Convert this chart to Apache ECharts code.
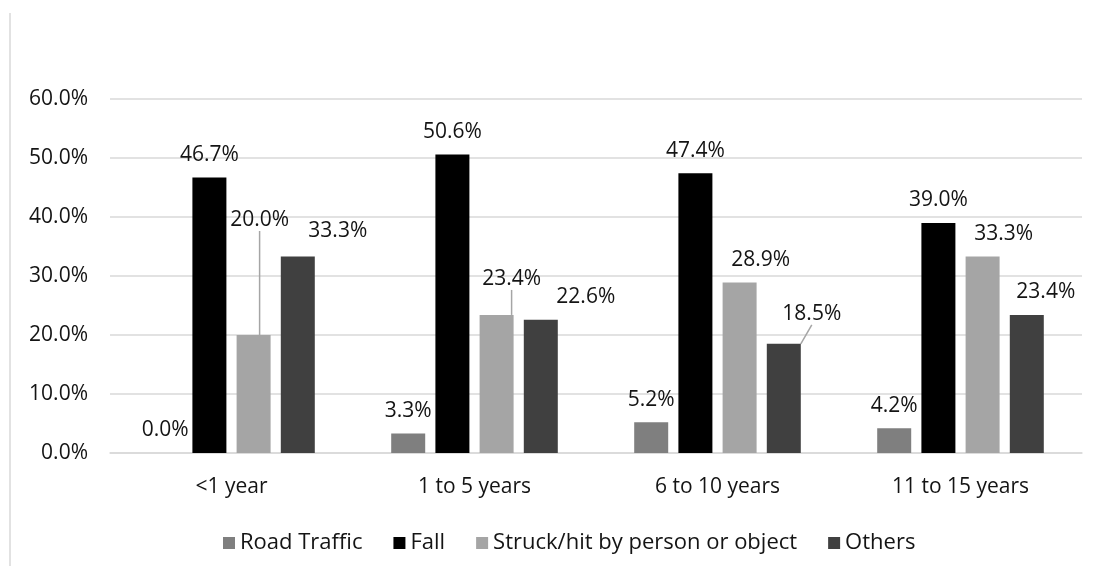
<!DOCTYPE html>
<html>
<head>
<meta charset="utf-8">
<script src="https://cdn.jsdelivr.net/npm/echarts@6/dist/echarts.min.js"></script>
<style>
html,body{margin:0;padding:0;background:#fff;}
#chart{width:1101px;height:566px;}
</style>
</head>
<body>
<div id="chart"></div>
<script>
const categories = ['<1 year', '1 to 5 years', '6 to 10 years', '11 to 15 years'];
const seriesNames = ['Road Traffic', 'Fall', 'Struck/hit by person or object', 'Others'];
const roadTraffic = [0.0, 3.3, 5.2, 4.2];
const fall = [46.7, 50.6, 47.4, 39.0];
const struck = [20.0, 23.4, 28.9, 33.3];
const others = [33.3, 22.6, 18.5, 23.4];
const yTicks = [0, 10, 20, 30, 40, 50, 60];

// label placement tweaks (dx, dy, leader line) — style only
const labelMoves = {
  2: [[6, -92, true], [15, -13, true], [21, 0, false], [21, 0, false]],
  3: [[40, -3, false], [45, 0, false], [28, -7, true], [19, 0, false]]
};
const colors = ['#7f7f7f', '#000000', '#a5a5a5', '#404040'];
const FONT = '"Open Sans", "Noto Sans", sans-serif';
const TXT = '#141414';

const allValues = [roadTraffic, fall, struck, others];

const chart = echarts.init(document.getElementById('chart'), null, {renderer: 'canvas'});

const series = allValues.map((vals, si) => ({
  name: seriesNames[si],
  type: 'bar',
  barWidth: 34,
  barGap: '30%',
  itemStyle: {color: colors[si]},
  data: vals.map((v, di) => {
    const mv = labelMoves[si] && labelMoves[si][di];
    return {
      value: v,
      labelLine: {show: !!(mv && mv[2]), lineStyle: {color: '#a5a5a5', width: 1.5}}
    };
  }),
  label: {
    show: true,
    position: 'top',
    distance: 12,
    fontFamily: FONT,
    fontSize: 21,
    color: TXT,
    formatter: p => p.value.toFixed(1) + '%'
  },
  labelLayout: function (params) {
    const mv = labelMoves[params.seriesIndex] && labelMoves[params.seriesIndex][params.dataIndex];
    return mv ? {dx: mv[0], dy: mv[1]} : {};
  },
  emphasis: {disabled: true}
}));

chart.setOption({
  animation: false,
  backgroundColor: '#ffffff',
  color: colors,
  grid: {left: 110, right: 19, top: 99, bottom: 113, containLabel: false},
  legend: {
    data: seriesNames,
    left: 218,
    top: 527,
    itemGap: 31,
    itemWidth: 12,
    itemHeight: 12,
    icon: 'rect',
    textStyle: {fontFamily: FONT, fontSize: 22, color: TXT},
    selectedMode: false
  },
  xAxis: {
    type: 'category',
    data: categories,
    axisLine: {lineStyle: {color: '#d9d9d9', width: 1.5}},
    axisTick: {show: false},
    axisLabel: {fontFamily: FONT, fontSize: 21, color: TXT, margin: 24}
  },
  yAxis: {
    type: 'value',
    min: yTicks[0],
    max: yTicks[yTicks.length - 1],
    interval: yTicks[1] - yTicks[0],
    axisLine: {show: false},
    axisTick: {show: false},
    splitLine: {lineStyle: {color: '#d9d9d9', width: 1.5}},
    axisLabel: {fontFamily: FONT, fontSize: 21, color: TXT, margin: 22,
      formatter: v => v.toFixed(1) + '%'}
  },
  graphic: [{
    type: 'line',
    shape: {x1: 10, y1: 13, x2: 10, y2: 566},
    style: {stroke: '#d9d9d9', lineWidth: 1.5},
    silent: true
  }],
  series: series
});
</script>
</body>
</html>
